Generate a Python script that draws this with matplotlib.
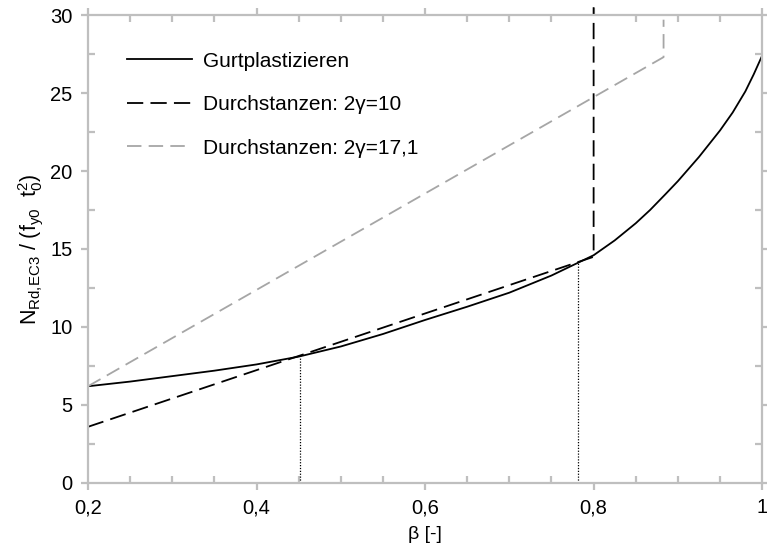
import numpy as np
import matplotlib
matplotlib.use("Agg")
import matplotlib.pyplot as plt
from matplotlib.ticker import MultipleLocator, FuncFormatter

plt.rcParams["font.family"] = ["Liberation Sans", "DejaVu Sans"]
plt.rcParams["mathtext.fontset"] = "custom"
plt.rcParams["mathtext.rm"] = "Liberation Sans"
plt.rcParams["mathtext.it"] = "Liberation Sans"

# chord face failure (Gurtplastizieren)
beta_gurt = [0.20, 0.25, 0.30, 0.35, 0.40, 0.45, 0.50, 0.55, 0.60, 0.65,
             0.70, 0.75, 0.80, 0.825, 0.85, 0.867, 0.885, 0.90, 0.925,
             0.95, 0.965, 0.98, 0.99, 1.00]
n_gurt = [6.2, 6.5, 6.85, 7.2, 7.6, 8.1, 8.75, 9.55, 10.45, 11.3,
          12.2, 13.3, 14.6, 15.55, 16.65, 17.5, 18.5, 19.35, 20.9,
          22.6, 23.75, 25.1, 26.2, 27.4]

# punching shear, 2gamma = 10
beta_ds10 = [0.2, 0.8, 0.8]
n_ds10 = [3.6, 14.5, 30.5]

# punching shear, 2gamma = 17.1
beta_ds17 = [0.2, 0.883, 0.883]
n_ds17 = [6.2, 27.3, 29.7]

# governing transitions
beta_switch = [0.452, 0.782]

grey = "#bfbfbf"

fig = plt.figure(figsize=(7.67, 5.54), dpi=100)
ax = fig.add_axes([0.1147, 0.1282, 0.879, 0.8447])

ax.plot(beta_gurt, n_gurt, color="black", lw=1.3,
        label="Gurtplastizieren")
ax.plot(beta_ds10, n_ds10, color="black", lw=1.3, dashes=(9, 4),
        label="Durchstanzen: 2\u03b3=10", clip_on=False)
ax.plot(beta_ds17, n_ds17, color="#a6a6a6", lw=1.3, dashes=(8, 4),
        label="Durchstanzen: 2\u03b3=17,1")

for b in beta_switch:
    ax.plot([b, b], [0, np.interp(b, beta_gurt, n_gurt)],
            color="black", lw=0.9, linestyle=(0, (1, 1.3)))

ax.set_xlim(0.2, 1.0)
ax.set_ylim(0, 30)
ax.xaxis.set_major_locator(MultipleLocator(0.2))
ax.xaxis.set_minor_locator(MultipleLocator(0.05))
ax.yaxis.set_major_locator(MultipleLocator(5))
ax.yaxis.set_minor_locator(MultipleLocator(2.5))


def comma(v, pos):
    s = f"{v:.1f}".rstrip("0").rstrip(".")
    return s.replace(".", ",")


ax.xaxis.set_major_formatter(FuncFormatter(comma))

for side in ax.spines.values():
    side.set_color(grey)
    side.set_linewidth(1.6)

ax.tick_params(which="major", direction="out", length=5, width=1.6,
               color=grey, labelsize=14.5, top=True, right=True, pad=6)
ax.tick_params(which="minor", direction="in", length=5, width=1.6,
               color=grey, top=True, right=True)

# keep the last x label inside the figure
fig.canvas.draw()
ax.get_xticklabels()[-1].set_horizontalalignment("right")
ax.get_xticklabels()[-1].set_x(1.0)

ax.set_xlabel("\u03b2 [-]", fontsize=14, labelpad=6)
ax.set_ylabel(r"$\mathregular{N_{Rd{,}EC3}\ /\ (f_{y0}\ \ t_0^2)}$",
              fontsize=15.5, labelpad=4)

ax.legend(loc="upper left", frameon=False, fontsize=15,
          handlelength=3.1, handletextpad=0.55, labelspacing=1.18,
          bbox_to_anchor=(0.03, 0.962))

fig.savefig("out.png", dpi=100)
